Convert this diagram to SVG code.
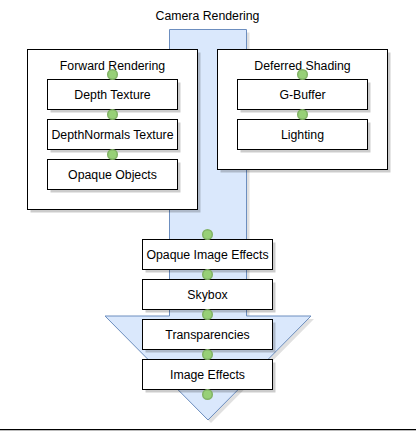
<svg xmlns="http://www.w3.org/2000/svg" width="416" height="431" viewBox="0 0 416 431">
<style>
text{font-family:"Liberation Sans",Arial,sans-serif;font-size:12.3px;fill:#000;text-anchor:middle}
.box{fill:#fff;stroke:#000;stroke-width:1}
.sh{fill:#000;opacity:0.2}
.dot{fill:#97d077;stroke:#82b366;stroke-width:1.5}
</style>
<rect width="416" height="431" fill="#fff"/>
<text x="207.5" y="20">Camera Rendering</text>
<g id="arrow">
<path d="M172.5 32.5 H249.5 V319 H314 L211 423 L108 319 H172.5 Z" fill="#000" opacity="0.12"/>
<path d="M169.5 29.5 H246.5 V316 H311 L208 420 L105 316 H169.5 Z" fill="#dae8fc" stroke="#6c8ebf" stroke-width="1"/>
</g>
<g id="forward">
<rect class="sh" x="30.5" y="52.5" width="170" height="160"/>
<rect class="box" x="27.5" y="49.5" width="170" height="160"/>
<text x="112.5" y="70">Forward Rendering</text>
</g>
<g id="deferred">
<rect class="sh" x="220.5" y="52.5" width="170" height="120"/>
<rect class="box" x="217.5" y="49.5" width="170" height="120"/>
<text x="302.5" y="70">Deferred Shading</text>
</g>
<g id="depth"><rect class="sh" x="50.5" y="82.5" width="130" height="30"/><rect class="box" x="47.5" y="79.5" width="130" height="30"/><text x="112.5" y="99">Depth Texture</text></g>
<g id="depthnormals"><rect class="sh" x="50.5" y="122.5" width="130" height="30"/><rect class="box" x="47.5" y="119.5" width="130" height="30"/><text x="112.5" y="139">DepthNormals Texture</text></g>
<g id="opaque"><rect class="sh" x="50.5" y="162.5" width="130" height="30"/><rect class="box" x="47.5" y="159.5" width="130" height="30"/><text x="112.5" y="179">Opaque Objects</text></g>
<g id="gbuffer"><rect class="sh" x="240.5" y="82.5" width="130" height="30"/><rect class="box" x="237.5" y="79.5" width="130" height="30"/><text x="302.5" y="99">G-Buffer</text></g>
<g id="lighting"><rect class="sh" x="240.5" y="122.5" width="130" height="30"/><rect class="box" x="237.5" y="119.5" width="130" height="30"/><text x="302.5" y="139">Lighting</text></g>
<g id="opaqueimg"><rect class="sh" x="145.5" y="242.5" width="130" height="30"/><rect class="box" x="142.5" y="239.5" width="130" height="30"/><text x="207.5" y="259">Opaque Image Effects</text></g>
<g id="skybox"><rect class="sh" x="145.5" y="282.5" width="130" height="30"/><rect class="box" x="142.5" y="279.5" width="130" height="30"/><text x="207.5" y="299">Skybox</text></g>
<g id="transp"><rect class="sh" x="145.5" y="322.5" width="130" height="30"/><rect class="box" x="142.5" y="319.5" width="130" height="30"/><text x="207.5" y="339">Transparencies</text></g>
<g id="imgfx"><rect class="sh" x="145.5" y="362.5" width="130" height="30"/><rect class="box" x="142.5" y="359.5" width="130" height="30"/><text x="207.5" y="379">Image Effects</text></g>
<g id="connectors">
<circle class="dot" cx="112.5" cy="74.5" r="4.8"/>
<circle class="dot" cx="112.5" cy="114.5" r="4.8"/>
<circle class="dot" cx="112.5" cy="154.5" r="4.8"/>
<circle class="dot" cx="302.5" cy="74.5" r="4.8"/>
<circle class="dot" cx="302.5" cy="114.5" r="4.8"/>
<circle class="dot" cx="207.5" cy="234.5" r="4.8"/>
<circle class="dot" cx="207.5" cy="274.5" r="4.8"/>
<circle class="dot" cx="207.5" cy="314.5" r="4.8"/>
<circle class="dot" cx="207.5" cy="354.5" r="4.8"/>
<circle class="dot" cx="207.5" cy="394.5" r="4.8"/>
</g>
<line x1="0" y1="429.5" x2="416" y2="429.5" stroke="#000" stroke-width="1"/>
<line x1="0" y1="430.5" x2="416" y2="430.5" stroke="#bbb" stroke-width="1"/>
</svg>
